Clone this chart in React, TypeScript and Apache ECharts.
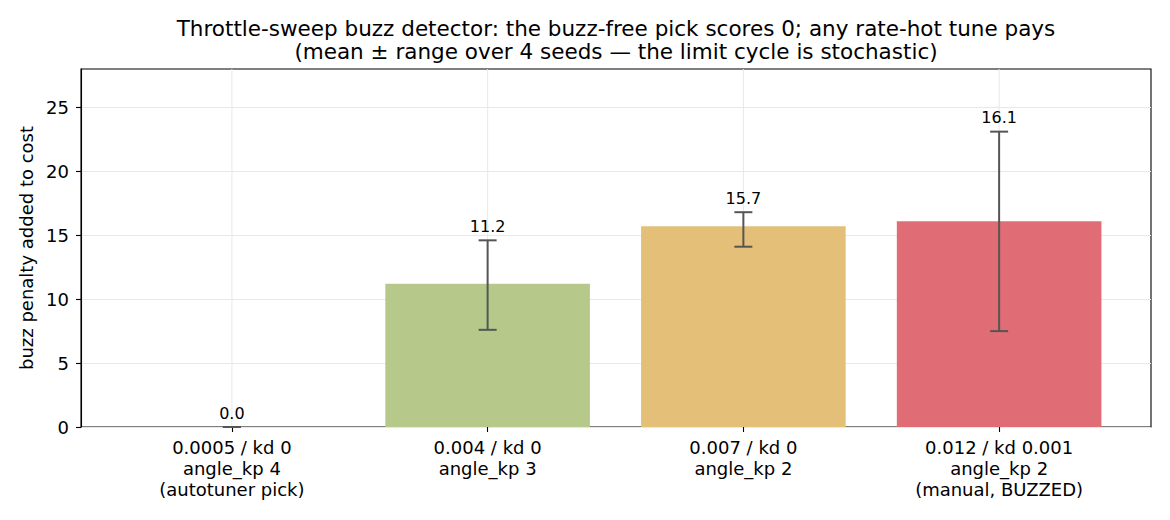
import { useEffect, useRef } from "react";
import * as echarts from "echarts";

const categories = [
  "0.0005 / kd 0\nangle_kp 4\n(autotuner pick)",
  "0.004 / kd 0\nangle_kp 3",
  "0.007 / kd 0\nangle_kp 2",
  "0.012 / kd 0.001\nangle_kp 2\n(manual, BUZZED)",
];
const means = [0, 11.2, 15.7, 16.1];
const lows = [0, 7.6, 14.1, 7.5];
const highs = [0, 14.6, 16.8, 23.1];
const barColors = ["#b6c98b", "#b6c98b", "#e4bf78", "#e06c75"];
const yTicks = [0, 5, 10, 15, 20, 25];

const FONT = "DejaVu Sans";

const App = () => {
  const chartRef = useRef<HTMLDivElement>(null);

  useEffect(() => {
    if (!chartRef.current) return;
    const chart = echarts.init(chartRef.current, undefined, { renderer: "svg" });

    const option = {
      animation: false,
      textStyle: { fontFamily: FONT },
      graphic: [
        {
          type: "text",
          x: 616,
          y: 28,
          style: {
            text: "Throttle-sweep buzz detector: the buzz-free pick scores 0; any rate-hot tune pays",
            fontFamily: FONT,
            fontSize: 21.5,
            fill: "#000",
            align: "center",
            verticalAlign: "middle",
          },
        },
        {
          type: "text",
          x: 616,
          y: 51,
          style: {
            text: "(mean \u00b1 range over 4 seeds \u2014 the limit cycle is stochastic)",
            fontFamily: FONT,
            fontSize: 21.5,
            fill: "#000",
            align: "center",
            verticalAlign: "middle",
          },
        },
      ],
      grid: [
        {
          left: 81,
          right: 19,
          top: 69,
          bottom: 93,
          show: true,
          borderColor: "#000",
          borderWidth: 1.1,
          backgroundColor: "transparent",
        },
        { left: 104, right: 43, top: 69, bottom: 93 },
      ],
      xAxis: [
        { type: "value", gridIndex: 0, min: 0, max: 1, show: false },
        {
          type: "category",
          gridIndex: 1,
          data: categories,
          axisLine: { show: false },
          axisTick: {
            show: true,
            alignWithLabel: true,
            length: 5,
            lineStyle: { color: "#000", width: 1.1 },
          },
          axisLabel: {
            color: "#000",
            fontFamily: FONT,
            fontSize: 18,
            lineHeight: 21,
            margin: 10,
            interval: 0,
          },
          splitLine: { show: false },
        },
      ],
      yAxis: [
        {
          type: "value",
          gridIndex: 0,
          min: 0,
          max: 28,
          interval: 5,
          name: "buzz penalty added to cost",
          nameLocation: "middle",
          nameGap: 45,
          nameTextStyle: { color: "#000", fontFamily: FONT, fontSize: 18 },
          axisLine: { show: true, lineStyle: { color: "#000", width: 1.1 } },
          axisTick: {
            show: true,
            length: 5,
            lineStyle: { color: "#000", width: 1.1 },
            customValues: yTicks,
          },
          axisLabel: {
            color: "#000",
            fontFamily: FONT,
            fontSize: 18,
            margin: 12,
            customValues: yTicks,
          },
          splitLine: { show: true, lineStyle: { color: "#e8e8e8", width: 1 } },
        },
        { type: "value", gridIndex: 1, min: 0, max: 28, show: false },
      ],
      series: [
        {
          type: "custom",
          name: "vgrid",
          xAxisIndex: 1,
          yAxisIndex: 1,
          z: 1,
          silent: true,
          data: categories.map((_, i) => [i]),
          renderItem: (_params: any, api: any) => {
            const i = api.value(0);
            const p0 = api.coord([i, 0]);
            const p1 = api.coord([i, 28]);
            return {
              type: "line",
              shape: { x1: p0[0], y1: p0[1], x2: p1[0], y2: p1[1] },
              style: { stroke: "#e8e8e8", lineWidth: 1 },
            };
          },
        },
        {
          type: "bar",
          xAxisIndex: 1,
          yAxisIndex: 1,
          barWidth: "80%",
          z: 2,
          data: means.map((v, i) => ({ value: v, itemStyle: { color: barColors[i] } })),
        },
        {
          type: "custom",
          name: "range",
          xAxisIndex: 1,
          yAxisIndex: 1,
          z: 3,
          data: categories.map((_, i) => [i, lows[i], highs[i], means[i]]),
          encode: { x: 0, y: [1, 2] },
          renderItem: (_params: any, api: any) => {
            const i = api.value(0);
            const pLo = api.coord([i, api.value(1)]);
            const pHi = api.coord([i, api.value(2)]);
            const half = 9;
            const stroke = { stroke: "#555555", lineWidth: 2 };
            return {
              type: "group",
              children: [
                {
                  type: "line",
                  shape: { x1: pLo[0], y1: pLo[1], x2: pHi[0], y2: pHi[1] },
                  style: stroke,
                },
                {
                  type: "line",
                  shape: { x1: pHi[0] - half, y1: pHi[1], x2: pHi[0] + half, y2: pHi[1] },
                  style: stroke,
                },
                {
                  type: "line",
                  shape: { x1: pLo[0] - half, y1: pLo[1], x2: pLo[0] + half, y2: pLo[1] },
                  style: stroke,
                },
                {
                  type: "text",
                  x: pHi[0],
                  y: pHi[1] - 6,
                  style: {
                    text: Number(api.value(3)).toFixed(1),
                    fontFamily: FONT,
                    fontSize: 16,
                    fill: "#000",
                    align: "center",
                    verticalAlign: "bottom",
                  },
                },
              ],
            };
          },
        },
      ],
    };

    chart.setOption(option);

    const handleResize = () => chart.resize();
    window.addEventListener("resize", handleResize);
    return () => {
      window.removeEventListener("resize", handleResize);
      chart.dispose();
    };
  }, []);

  return (
    <div
      ref={chartRef}
      style={{ position: "absolute", left: 0, top: 0, width: 1170, height: 520, background: "#fff" }}
    />
  );
};

export default App;
